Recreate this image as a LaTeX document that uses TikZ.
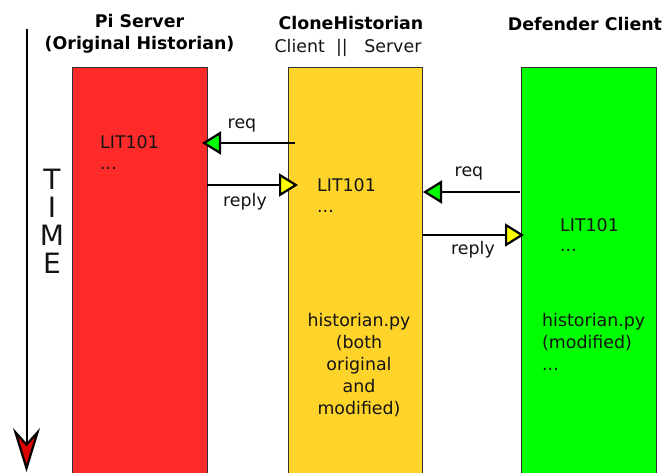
\documentclass[tikz,border=0pt]{standalone}
\usepackage{fontspec}
\setmainfont{DejaVu Sans}
\usetikzlibrary{arrows.meta}
\tikzset{
 x=1pt,y=-1pt,
 lab/.style={font=\fontsize{17.4}{22}\selectfont,inner sep=0pt,align=center,text=black!92},
 head/.style={font=\fontsize{17.4}{22}\selectfont\bfseries,inner sep=0pt,align=center},
 msggreen/.style={line width=2pt,-{Triangle[length=19pt,width=23pt,fill={rgb,255:red,0;green,255;blue,0},line width=2.2pt]}},
 msgyellow/.style={line width=2pt,-{Triangle[length=19pt,width=23pt,fill={rgb,255:red,255;green,255;blue,0},line width=2.2pt]}},
}
\begin{document}
\begin{tikzpicture}
\useasboundingbox (0,0) rectangle (663,472);
\begin{scope}
\clip (0,0) rectangle (663,472);
\path[draw=black!80,line width=1.6pt,fill={rgb,255:red,255;green,43;blue,43}] (72.5,67.5) rectangle (207.5,480);
\path[draw=black!80,line width=1.6pt,fill={rgb,255:red,255;green,212;blue,42}] (288.5,67.5) rectangle (422.5,480);
\path[draw=black!80,line width=1.6pt,fill={rgb,255:red,0;green,255;blue,0}] (521.5,67.5) rectangle (656.5,480);
\end{scope}
\coordinate (t0) at (26.5,29);
\coordinate (t1) at (26.5,472);
\draw[line width=2pt,-{Stealth[length=44pt,width=27pt,inset=15pt,line width=2.2pt,fill={rgb,255:red,220;green,0;blue,0}]}] (t0)--(t1);
\node[head] (h1) at (139.5,33.5) {Pi Server\\(Original Historian)};
\node[head] (h2) at (351,23) {CloneHistorian};
\node[lab] (h2b) at (348,48) {Client\ \ ||\ \ \ Server};
\node[head] (h3) at (585,24) {Defender Client};
\node[lab,font=\fontsize{28}{28}\selectfont] (time) at (52,221.5) {T\\I\\M\\E};
\node[lab,anchor=west] (a) at (100,142) {LIT101};
\node[lab,anchor=west] at (100,168) {...};
\node[lab,anchor=west] (b) at (317,185) {LIT101};
\node[lab,anchor=west] at (317,211) {...};
\node[lab,anchor=west] (c) at (560,225) {LIT101};
\node[lab,anchor=west] at (560,250) {...};
\node[lab] (p1) at (359,365) {historian.py\\(both\\original\\and\\modified)};
\node[lab,align=left,anchor=west] (p2) at (542,342) {historian.py\\(modified)\\...};
\coordinate (r1a) at (295,143); \coordinate (r1b) at (202,143);
\coordinate (r2a) at (207,185); \coordinate (r2b) at (298,185);
\coordinate (r3a) at (520,192); \coordinate (r3b) at (423,192);
\coordinate (r4a) at (422,235); \coordinate (r4b) at (524,235);
\draw[msggreen] (r1a)--(r1b);
\draw[msgyellow] (r2a)--(r2b);
\draw[msggreen] (r3a)--(r3b);
\draw[msgyellow] (r4a)--(r4b);
\node[lab] at (242,125) {req};
\node[lab] at (245,202) {reply};
\node[lab] at (469,173) {req};
\node[lab] at (473,250) {reply};
\end{tikzpicture}
\end{document}
